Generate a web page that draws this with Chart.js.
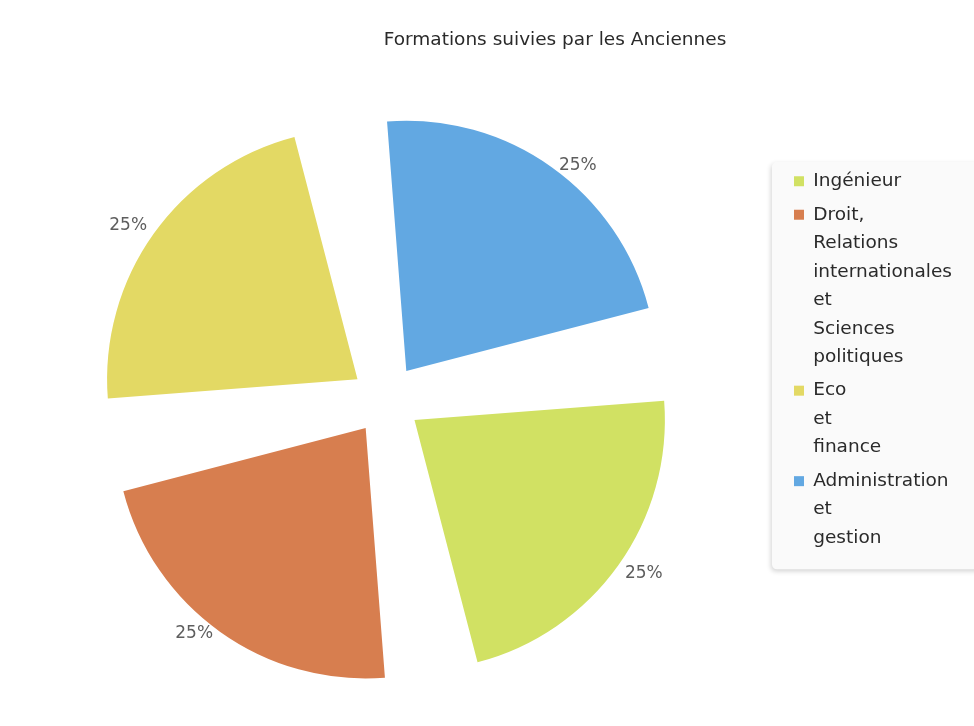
<!DOCTYPE html>
<html>
<head>
<meta charset="utf-8">
<script src="https://cdn.jsdelivr.net/npm/chart.js@4.4.1/dist/chart.umd.min.js"></script>
<style>
  html, body { margin: 0; padding: 0; background: #ffffff; }
  #wrap { width: 974px; height: 726px; }
</style>
</head>
<body>
<div id="wrap"><canvas id="c" width="974" height="726"></canvas></div>
<script>
const chartTitle = 'Formations suivies par les Anciennes';
const categories = [
  'Ingénieur',
  'Droit, Relations internationales et Sciences politiques',
  'Eco et finance',
  'Administration et gestion'
];
const values = [25, 25, 25, 25];
const colors = ['#d1e163', '#d77e4f', '#e3d964', '#62a8e2'];

const FONT = '"DejaVu Sans", Verdana, sans-serif';

const legendBg = {
  id: 'legendBg',
  beforeDraw(chart) {
    const lg = chart.legend;
    if (!lg || !lg.legendHitBoxes || !lg.legendHitBoxes.length) return;
    const hb = lg.legendHitBoxes;
    const top = hb[0].top - 10;
    const last = hb[hb.length - 1];
    const bottom = last.top + last.height + 12;
    const left = lg.left - 17;
    const right = chart.width + 10;
    const ctx = chart.ctx;
    ctx.save();
    ctx.shadowColor = 'rgba(0,0,0,0.18)';
    ctx.shadowBlur = 5;
    ctx.shadowOffsetX = -1;
    ctx.shadowOffsetY = 2;
    ctx.fillStyle = '#fafafa';
    ctx.beginPath();
    ctx.roundRect(left, top, right - left, bottom - top, 5);
    ctx.fill();
    ctx.restore();
  }
};

const boxShift = {
  id: 'boxShift',
  afterLayout(chart) {
    const t = chart.titleBlock;
    if (t) { t.left = 136; t.right = chart.width; }
    const lg = chart.legend;
    if (lg) { lg.left += 17; lg.right += 17; }
  }
};

const pctLabels = {
  id: 'pctLabels',
  afterDatasetsDraw(chart) {
    const ctx = chart.ctx;
    const meta = chart.getDatasetMeta(0);
    const data = chart.data.datasets[0].data;
    const total = data.reduce((a, b) => a + b, 0);
    ctx.save();
    ctx.font = '17px ' + FONT;
    ctx.fillStyle = '#5e5e5e';
    ctx.textAlign = 'center';
    ctx.textBaseline = 'middle';
    meta.data.forEach((arc, i) => {
      const p = arc.getProps(['x', 'y', 'startAngle', 'endAngle', 'outerRadius'], true);
      const mid = (p.startAngle + p.endAngle) / 2 + 0.02;
      const rx = p.outerRadius * 1.365;
      const ry = p.outerRadius * 1.24;
      const pct = Math.round(data[i] / total * 100) + '%';
      ctx.fillText(pct, p.x + Math.cos(mid) * rx, p.y + Math.sin(mid) * ry);
    });
    ctx.restore();
  }
};

new Chart(document.getElementById('c'), {
  type: 'pie',
  data: {
    labels: categories,
    datasets: [{
      data: values,
      backgroundColor: colors,
      borderWidth: 0,
      offset: 140,
      hoverOffset: 0,
      spacing: 30
    }]
  },
  options: {
    responsive: false,
    animation: false,
    rotation: 80.5,
    layout: { padding: { left: 0, right: 29, top: 0, bottom: 6 } },
    plugins: {
      tooltip: { enabled: false },
      title: {
        display: true,
        text: chartTitle,
        color: '#2a2a2a',
        font: { family: FONT, size: 18.5, weight: 'normal' },
        padding: { top: 29, bottom: 28 }
      },
      legend: {
        position: 'right',
        align: 'start',
        title: { display: true, text: ' ', font: { size: 10 }, padding: { top: 155, bottom: 0 } },
        labels: {
          boxWidth: 10,
          boxHeight: 10,
          padding: 5,
          color: '#2a2a2a',
          font: { family: FONT, size: 18.5, lineHeight: 1.54 },
          generateLabels(chart) {
            const ds = chart.data.datasets[0];
            return chart.data.labels.map((lab, i) => ({
              text: lab.split(' '),
              fillStyle: ds.backgroundColor[i],
              strokeStyle: ds.backgroundColor[i],
              fontColor: '#2a2a2a',
              lineWidth: 0,
              hidden: false,
              index: i
            }));
          }
        }
      }
    }
  },
  plugins: [legendBg, boxShift, pctLabels]
});
</script>
</body>
</html>
